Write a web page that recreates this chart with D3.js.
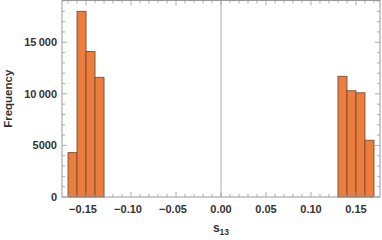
<!DOCTYPE html>
<html>
<head>
<meta charset="utf-8">
<script src="https://cdn.jsdelivr.net/npm/d3@7"></script>
<style>
  body { margin: 0; background: #fff; }
  svg { display: block; }
  text { font-family: "Liberation Sans", Arial, sans-serif; font-weight: bold; fill: #333; }
</style>
</head>
<body>
<div class="svg-container"></div>
<script>
// histogram bins (left edge), width 0.01
var binStarts = [-0.17, -0.16, -0.15, -0.14, 0.13, 0.14, 0.15, 0.16];
var counts = [4300, 18000, 14100, 11600, 11700, 10300, 10100, 5500];
var binWidth = 0.01;
var xTicks = [-0.15, -0.10, -0.05, 0.00, 0.05, 0.10, 0.15];
var yTicks = [0, 5000, 10000, 15000];

(function () {
    var W = 382, H = 240;
    var pL = 62, pR = 380, pT = 0.5, pB = 197;

    var svg = d3.select(".svg-container").append("svg")
        .attr("width", W).attr("height", H);

    var x = d3.scaleLinear().domain([-0.1767, 0.1767]).range([pL, pR]);
    var y = d3.scaleLinear().domain([0, 19050]).range([pB, pT]);

    // bars
    svg.selectAll("rect.bar")
        .data(binStarts)
        .enter().append("rect")
        .attr("class", "bar")
        .attr("x", function (d) { return x(d); })
        .attr("width", function (d) { return x(d + binWidth) - x(d); })
        .attr("y", function (d, i) { return y(counts[i]); })
        .attr("height", function (d, i) { return pB - y(counts[i]); })
        .attr("fill", "#eb7e3e")
        .attr("stroke", "#7c4c30")
        .attr("stroke-width", 0.9);

    // zero line
    svg.append("line")
        .attr("x1", x(0)).attr("x2", x(0))
        .attr("y1", pT).attr("y2", pB)
        .attr("stroke", "#b0b0b0").attr("stroke-width", 1);

    // frame
    svg.append("rect")
        .attr("x", pL).attr("y", pT)
        .attr("width", pR - pL).attr("height", pB - pT)
        .attr("fill", "none").attr("stroke", "#999").attr("stroke-width", 1);

    function fmtY(v) {
        var s = String(v);
        if (s.length > 4) s = s.slice(0, s.length - 3) + "\u2009" + s.slice(-3);
        return s;
    }
    function fmtX(v) {
        var s = Math.abs(v).toFixed(2);
        return v < -1e-9 ? "\u2212" + s : s;
    }

    var minorX = d3.range(-17, 18).map(function (i) { return i / 100; });
    var minorY = d3.range(0, 19001, 1000);
    var tickCol = "#999";

    // x ticks bottom and top
    var xt = svg.append("g");
    minorX.forEach(function (v) {
        var major = Math.abs(Math.round(v * 100) % 5) === 0;
        var len = major ? 5 : 3;
        xt.append("line").attr("x1", x(v)).attr("x2", x(v))
            .attr("y1", pB).attr("y2", pB - len)
            .attr("stroke", tickCol).attr("stroke-width", 0.8);
        xt.append("line").attr("x1", x(v)).attr("x2", x(v))
            .attr("y1", pT).attr("y2", pT + len)
            .attr("stroke", tickCol).attr("stroke-width", 0.8);
    });
    xt.selectAll("text").data(xTicks).enter().append("text")
        .attr("x", function (d) { return x(d) - (d < 0 ? 3 : 0); })
        .attr("y", 213)
        .attr("text-anchor", "middle")
        .attr("font-size", 11)
        .text(fmtX);

    // y ticks left and right
    var yt = svg.append("g");
    minorY.forEach(function (v) {
        var len = v % 5000 === 0 ? 5 : 3;
        yt.append("line").attr("x1", pL).attr("x2", pL + len)
            .attr("y1", y(v)).attr("y2", y(v))
            .attr("stroke", tickCol).attr("stroke-width", 0.8);
        yt.append("line").attr("x1", pR).attr("x2", pR - len)
            .attr("y1", y(v)).attr("y2", y(v))
            .attr("stroke", tickCol).attr("stroke-width", 0.8);
    });
    yt.selectAll("text").data(yTicks).enter().append("text")
        .attr("x", 57)
        .attr("y", function (d) { return y(d) + 4; })
        .attr("text-anchor", "end")
        .attr("font-size", 11)
        .text(fmtY);

    // axis labels
    svg.append("text")
        .attr("transform", "translate(12," + ((pT + pB) / 2) + ") rotate(-90)")
        .attr("text-anchor", "middle")
        .attr("font-size", 11.5)
        .text("Frequency");

    var xl = svg.append("text")
        .attr("x", x(0))
        .attr("y", 232)
        .attr("text-anchor", "middle")
        .attr("font-size", 12);
    xl.append("tspan").text("s");
    xl.append("tspan").attr("font-size", 8.5).attr("dy", 2.5).text("13");
})();
</script>
</body>
</html>
